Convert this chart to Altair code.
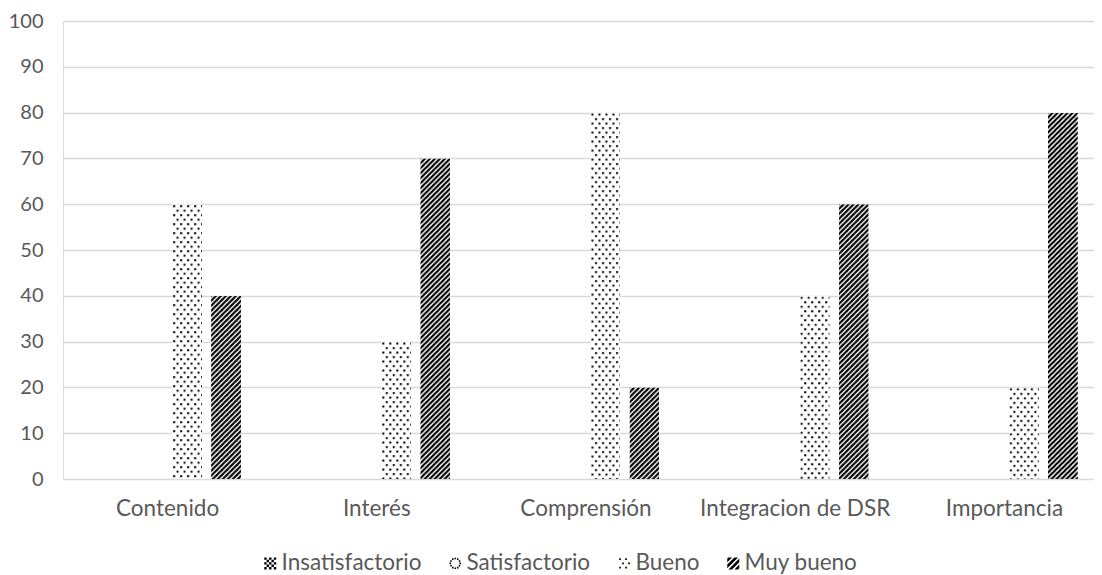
import base64
import math
import altair as alt
import pandas as pd

# ---------------- data ----------------
categorias = ["Contenido", "Interés", "Comprensión", "Integracion de DSR", "Importancia"]
series = ["Insatisfactorio", "Satisfactorio", "Bueno", "Muy bueno"]
insatisfactorio = [0, 0, 0, 0, 0]
satisfactorio = [0, 0, 0, 0, 0]
bueno = [60, 30, 80, 40, 20]
muy_bueno = [40, 70, 20, 60, 80]
y_ticks = [0, 10, 20, 30, 40, 50, 60, 70, 80, 90, 100]

valores = {
    "Insatisfactorio": insatisfactorio,
    "Satisfactorio": satisfactorio,
    "Bueno": bueno,
    "Muy bueno": muy_bueno,
}

# ---------------- pattern fills (style only) ----------------
def pattern_uri(w, h, body):
    svg = (
        '<svg xmlns="http://www.w3.org/2000/svg" width="100%" height="100%">'
        f'<defs><pattern id="p" x="0" y="0" width="{w}" height="{h}" patternUnits="userSpaceOnUse">{body}</pattern></defs>'
        '<rect x="0" y="0" width="100%" height="100%" fill="#ffffff"/>'
        '<rect x="0" y="0" width="100%" height="100%" fill="url(#p)"/></svg>'
    )
    return "data:image/svg+xml;base64," + base64.b64encode(svg.encode()).decode()

patrones = {
    "Insatisfactorio": pattern_uri(4, 4, '<rect x="0" y="0" width="1" height="1" fill="#000"/><rect x="2" y="2" width="1" height="1" fill="#000"/><rect x="1" y="1" width="1" height="1" fill="#000"/>'),
    "Satisfactorio": pattern_uri(6, 6, '<rect x="0" y="0" width="1" height="1" fill="#000"/><rect x="3" y="3" width="1" height="1" fill="#000"/>'),
    "Bueno": pattern_uri(7, 9, '<rect x="1" y="1" width="2" height="2" fill="#000"/><rect x="4.5" y="5.5" width="2" height="2" fill="#000"/>'),
    "Muy bueno": pattern_uri(5, 5, '<path d="M-1,1 l2,-2 M0,5 l5,-5 M4,6 l2,-2" stroke="#000" stroke-width="2.2" fill="none"/>'),
}

# ---------------- legend symbols as custom paths in [-1,1] ----------------
def squares(points, s):
    return " ".join(f"M{x - s:.3f},{y - s:.3f}h{2 * s:.3f}v{2 * s:.3f}h{-2 * s:.3f}Z" for x, y in points)

def clip(poly, a, b, c, keep_ge):
    out = []
    n = len(poly)
    def val(p):
        return a * p[0] + b * p[1] - c
    for i in range(n):
        p, q = poly[i], poly[(i + 1) % n]
        vp, vq = val(p), val(q)
        ip = vp >= 0 if keep_ge else vp <= 0
        iq = vq >= 0 if keep_ge else vq <= 0
        if ip:
            out.append(p)
        if ip != iq:
            t = vp / (vp - vq)
            out.append((p[0] + t * (q[0] - p[0]), p[1] + t * (q[1] - p[1])))
    return out

def stripes_path():
    sq = [(-1, -1), (1, -1), (1, 1), (-1, 1)]
    parts = []
    for ctr in [-1.5, -0.5, 0.5, 1.5]:
        poly = clip(sq, 1, 1, ctr - 0.3, True)
        poly = clip(poly, 1, 1, ctr + 0.3, False)
        if len(poly) >= 3:
            parts.append("M" + "L".join(f"{x:.3f},{y:.3f}" for x, y in poly) + "Z")
    return " ".join(parts)

g = [-0.8, -0.4, 0.0, 0.4, 0.8]
sym_insat = squares([(x, y) for i, x in enumerate(g) for j, y in enumerate(g) if (i + j) % 2 == 0], 0.2)
sym_satis = squares([(0.82 * math.cos(k * math.pi / 6), 0.82 * math.sin(k * math.pi / 6)) for k in range(12)], 0.13)
sym_bueno = squares([(-0.7, -0.7), (0.3, -0.7), (-0.2, 0.0), (0.8, 0.0), (-0.7, 0.7), (0.3, 0.7)], 0.14)
sym_muy = stripes_path()
simbolos = [sym_insat, sym_satis, sym_bueno, sym_muy]

# ---------------- table ----------------
filas = []
for s in series:
    for c, v in zip(categorias, valores[s]):
        filas.append({"categoria": c, "serie": s, "valor": v, "url": patrones[s]})
df = pd.DataFrame(filas)

FONT = "Lato"
GRAY = "#595959"

x_enc = alt.X(
    "categoria:N",
    sort=categorias,
    scale=alt.Scale(domain=categorias, range=[0, 1046], paddingInner=0, paddingOuter=0),
    axis=alt.Axis(title=None, domain=False, ticks=False, labelAngle=0, labelPadding=18,
                  labelFont=FONT, labelFontSize=22.5, labelColor=GRAY, labelLimit=400),
)
xoff_enc = alt.XOffset("serie:N", sort=series,
                       scale=alt.Scale(domain=series, paddingInner=0.2308, paddingOuter=0.798))
y_enc = alt.Y(
    "valor:Q",
    scale=alt.Scale(domain=[0, 100]),
    axis=alt.Axis(title=None, values=y_ticks, domain=False, ticks=False, grid=True,
                  gridColor="#d9d9d9", gridWidth=1.5, labelPadding=20,
                  labelFont=FONT, labelFontSize=20, labelColor=GRAY),
)

barras = alt.Chart(df).mark_image(aspect=False).encode(
    x=x_enc, xOffset=xoff_enc, y=y_enc, y2=alt.datum(0), url="url:N"
)

leyenda = alt.Chart(df).mark_point(filled=True, opacity=0, color="black", size=144).encode(
    x=x_enc, xOffset=xoff_enc, y=y_enc,
    shape=alt.Shape(
        "serie:N", sort=series,
        scale=alt.Scale(domain=series, range=simbolos),
        legend=alt.Legend(title=None, orient="none", direction="horizontal", columns=4,
                          legendX=196, legendY=531, symbolSize=144, symbolFillColor="black",
                          symbolStrokeWidth=0, labelFont=FONT, labelFontSize=22.5,
                          labelColor=GRAY, labelOffset=0, columnPadding=22, labelLimit=300),
    ),
)

chart = alt.layer(barras, leyenda).properties(
    width=1031, height=458,
    autosize=alt.AutoSizeParams(type="none"),
    padding={"left": 55, "top": 13, "right": 0, "bottom": 96},
).configure_view(stroke=None).configure(background="white")

chart.save("out.html", embed_options={"renderer": "svg", "actions": False})
